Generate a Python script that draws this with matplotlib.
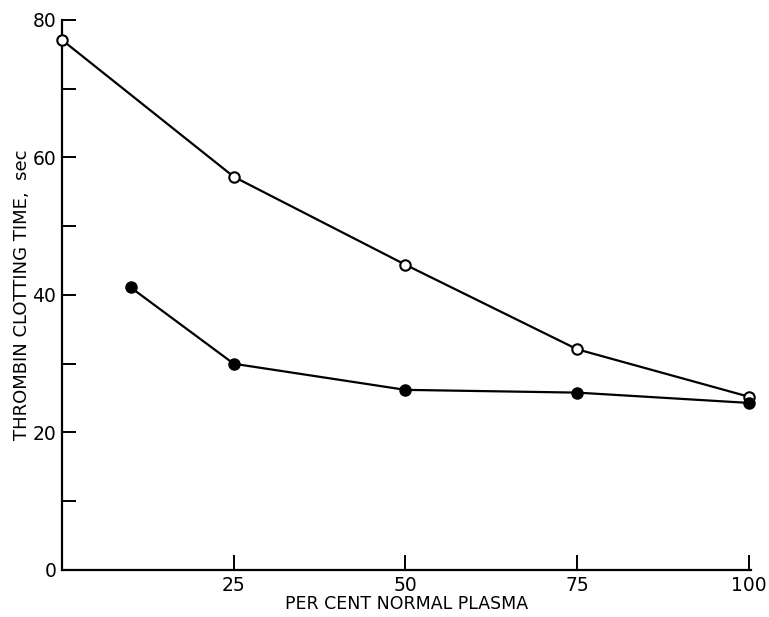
import matplotlib
matplotlib.use("Agg")
import matplotlib.pyplot as plt

# per cent normal plasma vs thrombin clotting time (sec)
open_x = [0, 25, 50, 75, 100]
open_y = [77.1, 57.2, 44.4, 32.1, 25.2]

filled_x = [10, 25, 50, 75, 100]
filled_y = [41.1, 30.0, 26.2, 25.8, 24.3]

x_ticks = [25, 50, 75, 100]
y_major = [0, 20, 40, 60, 80]
y_minor = [10, 30, 50, 70]

plt.rcParams['font.family'] = ['DejaVu Sans']

fig = plt.figure(figsize=(7.69, 6.17), dpi=100)
ax = fig.add_axes([0.0806, 0.0762, 0.8960, 0.8914])

ax.plot(open_x, open_y, color='black', lw=1.6, marker='o', ms=7.5,
        mfc='white', mec='black', mew=1.5, clip_on=False, zorder=3)
ax.plot(filled_x, filled_y, color='black', lw=1.6, marker='o', ms=8,
        mfc='black', mec='black', clip_on=False, zorder=3)

ax.set_xlim(0, 100.3)
ax.set_ylim(0, 80)
ax.set_xticks(x_ticks)
ax.set_xticklabels([str(t) for t in x_ticks])
ax.set_yticks(y_major)
ax.set_yticks(y_minor, minor=True)

for side in ['top', 'right']:
    ax.spines[side].set_visible(False)
for side in ['left', 'bottom']:
    ax.spines[side].set_linewidth(1.6)

ax.tick_params(axis='both', which='both', direction='in', width=1.4,
               labelsize=13.5, colors='black')
ax.tick_params(axis='y', which='major', length=10, pad=4)
ax.tick_params(axis='y', which='minor', length=10)
ax.tick_params(axis='x', which='major', length=11, pad=4)

ax.set_xlabel('PER CENT NORMAL PLASMA', fontsize=12.5, labelpad=0)
ax.set_ylabel('THROMBIN CLOTTING TIME,  sec', fontsize=13, labelpad=1)

fig.savefig('out.png', dpi=100)
